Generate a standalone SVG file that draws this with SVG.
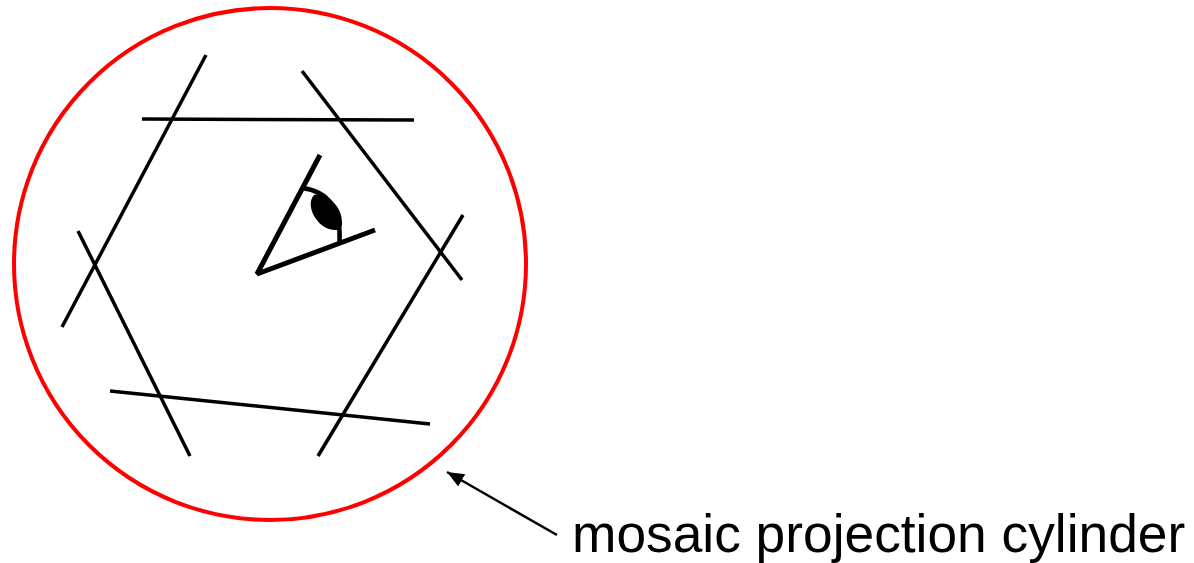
<svg xmlns="http://www.w3.org/2000/svg" width="1194" height="563" viewBox="0 0 1194 563">
<style>
.l{stroke:#000;stroke-width:3.5;fill:none}
.e{stroke:#000;stroke-width:5;fill:none;stroke-linejoin:bevel}
text{font-family:"Liberation Sans",Arial,sans-serif;font-size:53.300px;fill:#000}
</style>
<defs><marker id="a" markerUnits="userSpaceOnUse" markerWidth="18" markerHeight="16" refX="17" refY="8" orient="auto"><path d="M0 1L17 8L0 15z" fill="#000"/></marker></defs>
<rect width="1194" height="563" fill="#fff"/>
<g id="cylinder"><circle cx="270" cy="264" r="256" fill="none" stroke="#f00" stroke-width="4"/></g>
<g id="eye"><path class="e" d="M320 155L257 274L375 230"/><path d="M302 188Q342 193 339.500 242" stroke="#000" stroke-width="4.500" fill="none"/><path d="M314 195C325 192 342 205 342 222C343 231 335 231 329 229C316 225 305 205 314 195z" fill="#000"/></g>
<g id="connectors">
<path class="l" d="M206 55L62 327"/><path class="l" d="M142 119L414 120"/><path class="l" d="M302 71L462 280"/><path class="l" d="M463 215L318 456"/><path class="l" d="M110 391L430 424"/><path class="l" d="M78 231L190 456"/>
<path d="M557 535L447 472" stroke="#000" stroke-width="2.500" marker-end="url(#a)"/>
</g>
<g id="label"><text x="572" y="552">mosaic projection cylinder</text></g>
</svg>
